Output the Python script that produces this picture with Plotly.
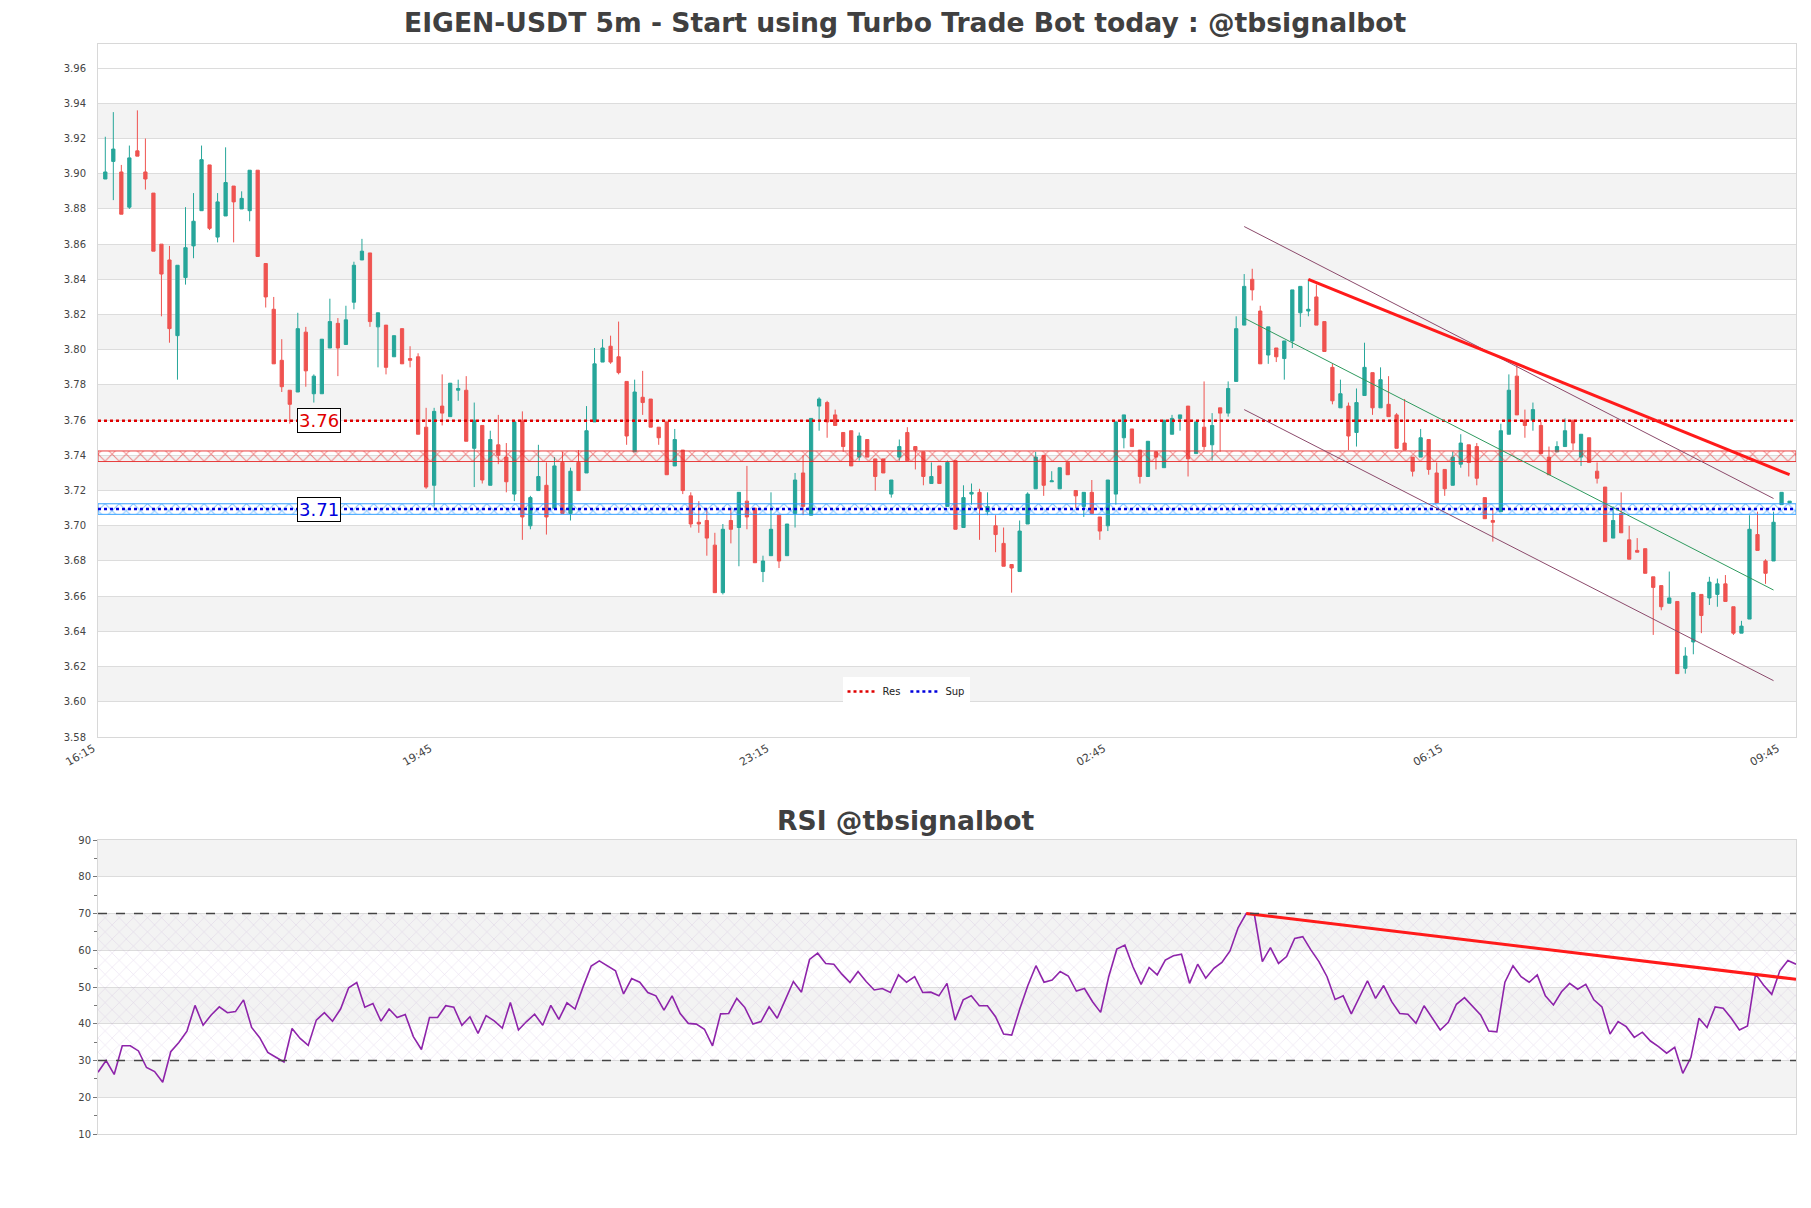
import plotly.graph_objects as go

# ---------------- data ----------------
tick_idx = [0, 42, 84, 126, 168, 210]
tick_labels = ["16:15", "19:45", "23:15", "02:45", "06:15", "09:45"]

open_ = [3.897, 3.907, 3.901, 3.881, 3.913, 3.901, 3.889, 3.860, 3.851, 3.808,
         3.841, 3.859, 3.879, 3.905, 3.864, 3.876, 3.893, 3.880, 3.879, 3.902,
         3.849, 3.823, 3.794, 3.777, 3.776, 3.810, 3.775, 3.775, 3.801, 3.815,
         3.803, 3.827, 3.851, 3.855, 3.813, 3.814, 3.796, 3.812, 3.795, 3.796,
         3.756, 3.723, 3.768, 3.762, 3.777, 3.777, 3.744, 3.757, 3.723, 3.746,
         3.739, 3.718, 3.760, 3.700, 3.720, 3.723, 3.710, 3.736, 3.707, 3.736,
         3.730, 3.759, 3.793, 3.802, 3.796, 3.782, 3.742, 3.773, 3.772, 3.756,
         3.759, 3.734, 3.743, 3.717, 3.702, 3.703, 3.689, 3.662, 3.703, 3.699,
         3.714, 3.710, 3.674, 3.683, 3.706, 3.683, 3.707, 3.730, 3.706, 3.768,
         3.770, 3.763, 3.753, 3.754, 3.739, 3.749, 3.738, 3.738, 3.718, 3.739,
         3.753, 3.745, 3.742, 3.724, 3.734, 3.711, 3.737, 3.699, 3.718, 3.719,
         3.708, 3.700, 3.690, 3.678, 3.674, 3.701, 3.721, 3.740, 3.725, 3.721,
         3.736, 3.720, 3.711, 3.719, 3.705, 3.700, 3.718, 3.750, 3.755, 3.743,
         3.728, 3.742, 3.733, 3.752, 3.761, 3.768, 3.741, 3.756, 3.746, 3.767,
         3.764, 3.782, 3.814, 3.840, 3.822, 3.797, 3.801, 3.795, 3.805, 3.821,
         3.822, 3.830, 3.816, 3.790, 3.767, 3.768, 3.753, 3.774, 3.787, 3.767,
         3.769, 3.763, 3.747, 3.739, 3.739, 3.749, 3.730, 3.732, 3.723, 3.735,
         3.746, 3.745, 3.716, 3.703, 3.708, 3.752, 3.785, 3.760, 3.760, 3.757,
         3.739, 3.742, 3.745, 3.760, 3.739, 3.750, 3.731, 3.722, 3.693, 3.707,
         3.692, 3.686, 3.687, 3.671, 3.666, 3.656, 3.657, 3.619, 3.634, 3.661,
         3.659, 3.661, 3.667, 3.654, 3.639, 3.647, 3.695, 3.680, 3.680, 3.712,
         3.713]
high = [3.921, 3.935, 3.905, 3.916, 3.936, 3.920, 3.889, 3.860, 3.859, 3.848,
        3.881, 3.889, 3.916, 3.905, 3.889, 3.915, 3.893, 3.890, 3.902, 3.902,
        3.849, 3.830, 3.806, 3.777, 3.821, 3.813, 3.786, 3.806, 3.829, 3.818,
        3.825, 3.850, 3.863, 3.855, 3.821, 3.814, 3.808, 3.812, 3.802, 3.798,
        3.767, 3.767, 3.786, 3.781, 3.783, 3.785, 3.770, 3.757, 3.754, 3.763,
        3.747, 3.759, 3.765, 3.717, 3.746, 3.736, 3.739, 3.742, 3.733, 3.743,
        3.768, 3.801, 3.806, 3.808, 3.816, 3.782, 3.783, 3.788, 3.772, 3.756,
        3.759, 3.755, 3.743, 3.719, 3.714, 3.710, 3.696, 3.701, 3.710, 3.719,
        3.734, 3.710, 3.683, 3.719, 3.706, 3.701, 3.730, 3.740, 3.761, 3.773,
        3.771, 3.766, 3.753, 3.754, 3.753, 3.749, 3.738, 3.738, 3.726, 3.749,
        3.756, 3.745, 3.742, 3.736, 3.734, 3.737, 3.737, 3.723, 3.724, 3.721,
        3.719, 3.706, 3.699, 3.678, 3.703, 3.719, 3.742, 3.740, 3.731, 3.733,
        3.736, 3.720, 3.719, 3.726, 3.705, 3.726, 3.759, 3.763, 3.755, 3.743,
        3.748, 3.742, 3.760, 3.763, 3.763, 3.768, 3.759, 3.782, 3.764, 3.767,
        3.782, 3.819, 3.843, 3.846, 3.825, 3.813, 3.801, 3.805, 3.834, 3.836,
        3.840, 3.837, 3.816, 3.792, 3.783, 3.770, 3.778, 3.804, 3.787, 3.790,
        3.785, 3.764, 3.772, 3.739, 3.755, 3.749, 3.736, 3.732, 3.742, 3.752,
        3.746, 3.747, 3.716, 3.710, 3.758, 3.786, 3.792, 3.766, 3.770, 3.759,
        3.745, 3.748, 3.761, 3.760, 3.752, 3.750, 3.736, 3.722, 3.711, 3.719,
        3.700, 3.693, 3.687, 3.671, 3.666, 3.674, 3.657, 3.631, 3.662, 3.661,
        3.671, 3.670, 3.672, 3.654, 3.646, 3.706, 3.708, 3.681, 3.708, 3.719,
        3.714]
low = [3.897, 3.885, 3.877, 3.880, 3.910, 3.891, 3.856, 3.819, 3.804, 3.783,
       3.837, 3.852, 3.879, 3.868, 3.861, 3.876, 3.861, 3.880, 3.873, 3.853,
       3.824, 3.792, 3.776, 3.758, 3.776, 3.779, 3.770, 3.775, 3.801, 3.785,
       3.803, 3.823, 3.851, 3.813, 3.790, 3.786, 3.796, 3.792, 3.790, 3.752,
       3.721, 3.711, 3.757, 3.762, 3.771, 3.748, 3.722, 3.724, 3.723, 3.735,
       3.719, 3.714, 3.692, 3.698, 3.720, 3.695, 3.710, 3.707, 3.703, 3.720,
       3.730, 3.759, 3.793, 3.792, 3.786, 3.746, 3.742, 3.763, 3.756, 3.746,
       3.729, 3.734, 3.718, 3.699, 3.696, 3.683, 3.662, 3.661, 3.690, 3.677,
       3.698, 3.679, 3.668, 3.683, 3.676, 3.683, 3.699, 3.706, 3.706, 3.754,
       3.750, 3.757, 3.742, 3.734, 3.737, 3.739, 3.720, 3.730, 3.716, 3.737,
       3.737, 3.732, 3.723, 3.724, 3.724, 3.711, 3.698, 3.699, 3.712, 3.692,
       3.706, 3.685, 3.677, 3.662, 3.674, 3.701, 3.721, 3.717, 3.725, 3.721,
       3.729, 3.710, 3.705, 3.707, 3.692, 3.697, 3.712, 3.744, 3.745, 3.724,
       3.728, 3.732, 3.733, 3.752, 3.754, 3.728, 3.741, 3.743, 3.737, 3.742,
       3.762, 3.782, 3.814, 3.828, 3.792, 3.792, 3.793, 3.783, 3.801, 3.813,
       3.819, 3.814, 3.799, 3.769, 3.767, 3.743, 3.745, 3.774, 3.763, 3.767,
       3.762, 3.744, 3.743, 3.728, 3.739, 3.729, 3.713, 3.717, 3.723, 3.733,
       3.728, 3.723, 3.704, 3.691, 3.708, 3.752, 3.763, 3.750, 3.754, 3.741,
       3.729, 3.742, 3.745, 3.743, 3.734, 3.736, 3.724, 3.691, 3.693, 3.696,
       3.681, 3.685, 3.673, 3.638, 3.652, 3.656, 3.616, 3.616, 3.627, 3.639,
       3.655, 3.654, 3.657, 3.638, 3.639, 3.647, 3.686, 3.667, 3.680, 3.712,
       3.713]
close = [3.901, 3.914, 3.877, 3.909, 3.910, 3.897, 3.856, 3.843, 3.812, 3.848,
         3.858, 3.873, 3.908, 3.869, 3.884, 3.895, 3.884, 3.886, 3.902, 3.853,
         3.830, 3.792, 3.779, 3.769, 3.812, 3.788, 3.785, 3.806, 3.816, 3.801,
         3.817, 3.848, 3.856, 3.816, 3.821, 3.790, 3.808, 3.792, 3.794, 3.752,
         3.722, 3.765, 3.764, 3.781, 3.778, 3.748, 3.760, 3.726, 3.749, 3.740,
         3.725, 3.759, 3.705, 3.716, 3.728, 3.705, 3.734, 3.707, 3.731, 3.720,
         3.754, 3.792, 3.801, 3.793, 3.787, 3.751, 3.776, 3.770, 3.756, 3.750,
         3.729, 3.749, 3.720, 3.701, 3.701, 3.693, 3.662, 3.698, 3.698, 3.719,
         3.705, 3.679, 3.680, 3.698, 3.680, 3.701, 3.726, 3.711, 3.761, 3.772,
         3.759, 3.757, 3.745, 3.734, 3.751, 3.739, 3.728, 3.730, 3.726, 3.745,
         3.737, 3.743, 3.728, 3.728, 3.724, 3.736, 3.698, 3.716, 3.719, 3.710,
         3.711, 3.695, 3.677, 3.676, 3.697, 3.718, 3.739, 3.723, 3.7255, 3.733,
         3.729, 3.717, 3.719, 3.707, 3.697, 3.726, 3.759, 3.763, 3.745, 3.728,
         3.748, 3.739, 3.760, 3.761, 3.763, 3.738, 3.759, 3.745, 3.757, 3.764,
         3.778, 3.812, 3.836, 3.834, 3.792, 3.813, 3.796, 3.805, 3.834, 3.836,
         3.823, 3.814, 3.799, 3.771, 3.775, 3.751, 3.770, 3.790, 3.767, 3.783,
         3.762, 3.744, 3.743, 3.731, 3.750, 3.732, 3.713, 3.721, 3.739, 3.747,
         3.736, 3.727, 3.704, 3.702, 3.754, 3.777, 3.763, 3.757, 3.766, 3.741,
         3.729, 3.745, 3.754, 3.747, 3.752, 3.736, 3.727, 3.691, 3.703, 3.696,
         3.681, 3.685, 3.673, 3.665, 3.654, 3.659, 3.616, 3.626, 3.662, 3.649,
         3.668, 3.667, 3.657, 3.639, 3.643, 3.698, 3.686, 3.673, 3.702, 3.719,
         3.714]

rsi = [26.8, 30.0, 26.2, 34.0, 34.0, 32.6, 28.1, 27.0, 24.1, 32.4,
       34.9, 38.0, 45.0, 39.6, 42.4, 44.6, 43.0, 43.3, 46.5, 39.0,
       36.2, 32.2, 30.9, 29.6, 38.7, 36.0, 34.1, 41.0, 43.0, 40.7,
       44.0, 49.8, 51.2, 44.5, 45.5, 40.7, 44.0, 41.7, 42.5, 36.5,
       33.0, 41.7, 41.7, 44.9, 44.5, 39.6, 41.9, 37.4, 42.2, 40.8,
       38.8, 45.8, 38.3, 40.6, 42.6, 39.6, 45.0, 41.2, 45.7, 44.0,
       50.1, 55.7, 57.1, 55.7, 54.4, 48.1, 52.3, 51.3, 48.5, 47.6,
       43.7, 47.6, 42.8, 40.1, 39.9, 38.5, 34.0, 42.7, 42.8, 46.9,
       44.4, 39.9, 40.6, 44.6, 41.5, 46.5, 51.5, 48.6, 57.5, 59.2,
       56.4, 56.2, 53.5, 51.2, 54.2, 51.5, 49.2, 49.6, 48.5, 53.3,
       51.3, 52.8, 48.5, 48.6, 47.6, 51.0, 41.0, 46.5, 47.6, 44.9,
       44.9, 41.9, 37.2, 36.9, 44.0, 50.4, 55.8, 51.3, 51.9, 54.2,
       53.0, 48.9, 49.6, 46.0, 43.1, 52.8, 60.3, 61.4, 55.5, 50.7,
       55.3, 53.3, 57.3, 58.5, 58.9, 51.0, 56.2, 52.4, 55.1, 56.7,
       59.8, 66.1, 70.0, 69.9, 56.9, 60.7, 56.4, 58.3, 63.2, 63.7,
       60.1, 56.9, 52.8, 46.6, 47.6, 42.7, 47.4, 51.7, 46.9, 50.4,
       46.0, 42.8, 42.6, 40.1, 44.9, 41.5, 38.3, 40.4, 45.3, 47.1,
       44.6, 42.4, 38.0, 37.8, 51.3, 55.8, 52.8, 51.3, 53.3, 47.6,
       45.1, 48.7, 51.0, 49.4, 50.7, 46.5, 44.6, 37.2, 40.6, 39.2,
       36.3, 37.7, 35.3, 33.8, 32.0, 33.6, 26.5, 30.8, 41.5, 39.0,
       44.6, 44.2, 41.5, 38.3, 39.4, 53.5, 50.5, 48.0, 54.4, 57.2,
       56.2]

res_level = 3.7597
sup_level = 3.7095
res_zone = [3.7365, 3.7425]
sup_zone = [3.7065, 3.7125]

trend_x = [150, 210]
trend_y = [3.840, 3.729]
chan_x = [142, 208]
chan_upper = [3.870, 3.7155]
chan_mid = [3.818, 3.6635]
chan_lower = [3.766, 3.612]

rsi_trend_x = [142, 210]
rsi_trend_y = [70.0, 52.1]
rsi_levels = [30, 70]

# ---------------- figure ----------------
n = len(close)
xs = list(range(n))
X_LO, X_HI = -0.91, 210.8

FONT = "DejaVu Sans"
GREEN = "#26a69a"
RED = "#ef5350"

fig = go.Figure()

fig.add_trace(go.Candlestick(
    x=xs, open=open_, high=high, low=low, close=close,
    increasing=dict(line=dict(color=GREEN, width=1), fillcolor=GREEN),
    decreasing=dict(line=dict(color=RED, width=1), fillcolor=RED),
    whiskerwidth=0, showlegend=False, xaxis="x", yaxis="y", hoverinfo="skip"))

# hatched zones
fig.add_trace(go.Scatter(
    x=[X_LO, X_HI, X_HI, X_LO, X_LO],
    y=[res_zone[0], res_zone[0], res_zone[1], res_zone[1], res_zone[0]],
    mode="lines", fill="toself", line=dict(color="rgba(230,40,40,0.9)", width=1),
    fillcolor="rgba(0,0,0,0)",
    fillpattern=dict(shape="x", fgcolor="#e82020", bgcolor="rgba(0,0,0,0)",
                     size=10, solidity=0.2),
    showlegend=False, hoverinfo="skip", xaxis="x", yaxis="y"))
fig.add_trace(go.Scatter(
    x=[X_LO, X_HI, X_HI, X_LO, X_LO],
    y=[sup_zone[0], sup_zone[0], sup_zone[1], sup_zone[1], sup_zone[0]],
    mode="lines", fill="toself", line=dict(color="rgba(30,150,255,0.9)", width=1),
    fillcolor="rgba(0,0,0,0)",
    fillpattern=dict(shape="x", fgcolor="#1e90ff", bgcolor="rgba(0,0,0,0)",
                     size=10, solidity=0.2),
    showlegend=False, hoverinfo="skip", xaxis="x", yaxis="y"))

# support / resistance lines
fig.add_trace(go.Scatter(x=[X_LO, X_HI], y=[res_level, res_level], mode="lines",
                         line=dict(color="#e00000", width=2.5, dash="dot"), name="Res",
                         hoverinfo="skip", xaxis="x", yaxis="y"))
fig.add_trace(go.Scatter(x=[X_LO, X_HI], y=[sup_level, sup_level], mode="lines",
                         line=dict(color="#0000dd", width=2.5, dash="dot"), name="Sup",
                         hoverinfo="skip", xaxis="x", yaxis="y"))

# channel
for yy, col in [(chan_upper, "#8b4a6b"), (chan_lower, "#8b4a6b"), (chan_mid, "#2e9a5e")]:
    fig.add_trace(go.Scatter(x=chan_x, y=yy, mode="lines", line=dict(color=col, width=1),
                             showlegend=False, hoverinfo="skip", xaxis="x", yaxis="y"))
# trend line
fig.add_trace(go.Scatter(x=trend_x, y=trend_y, mode="lines", line=dict(color="#ff1a1a", width=3),
                         showlegend=False, hoverinfo="skip", xaxis="x", yaxis="y"))

# ---------------- RSI ----------------
fig.add_trace(go.Scatter(
    x=[0, n - 1, n - 1, 0, 0], y=[rsi_levels[0], rsi_levels[0], rsi_levels[1], rsi_levels[1], rsi_levels[0]],
    mode="lines", fill="toself", line=dict(width=0, color="rgba(0,0,0,0)"),
    fillcolor="rgba(0,0,0,0)",
    fillpattern=dict(shape="x", fgcolor="rgba(160,120,190,0.55)", bgcolor="rgba(0,0,0,0)",
                     size=10, solidity=0.1),
    showlegend=False, hoverinfo="skip", xaxis="x2", yaxis="y2"))
fig.add_trace(go.Scatter(x=xs, y=rsi, mode="lines", line=dict(color="#8e24aa", width=1.6),
                         showlegend=False, hoverinfo="skip", xaxis="x2", yaxis="y2"))
fig.add_trace(go.Scatter(x=rsi_trend_x, y=rsi_trend_y, mode="lines", line=dict(color="#ff1a1a", width=3),
                         showlegend=False, hoverinfo="skip", xaxis="x2", yaxis="y2"))

shapes = []
# alternating bands on the price chart
band_lo = [3.60, 3.64, 3.68, 3.72, 3.76, 3.80, 3.84, 3.88, 3.92]
for b in band_lo:
    shapes.append(dict(type="rect", xref="x domain", yref="y", x0=0, x1=1, y0=b, y1=b + 0.02,
                       fillcolor="#f3f3f3", line=dict(width=0), layer="below"))
for b in [20, 40, 60, 80]:
    shapes.append(dict(type="rect", xref="x2 domain", yref="y2", x0=0, x1=1, y0=b, y1=b + 10,
                       fillcolor="#f3f3f3", line=dict(width=0), layer="below"))
for lv in rsi_levels:
    shapes.append(dict(type="line", xref="x2 domain", yref="y2", x0=0, x1=1, y0=lv, y1=lv,
                       line=dict(color="#444444", width=1.4, dash="dash"), layer="above"))

L, R, T, B = 98, 15, 44, 74
H, W = 1208, 1811
plot_h = H - T - B
main_bottom = (H - B - 737) / plot_h
rsi_top = (H - B - 840) / plot_h


def py(ypix):
    return (H - B - ypix) / plot_h


def px(xpix):
    return (xpix - L) / (W - L - R)


annotations = [
    dict(text="<b>EIGEN-USDT 5m - Start using Turbo Trade Bot today : @tbsignalbot</b>",
         xref="paper", yref="paper", x=px(905.5), y=py(23), xanchor="center", yanchor="middle",
         showarrow=False, font=dict(family=FONT, size=26.6, color="#404040")),
    dict(text="<b>RSI @tbsignalbot</b>", xref="paper", yref="paper", x=px(905.5), y=py(820),
         xanchor="center", yanchor="middle", showarrow=False,
         font=dict(family=FONT, size=26.6, color="#404040")),
    dict(text="3.76", x=26.6, y=res_level, xref="x", yref="y", showarrow=False,
         font=dict(family=FONT, size=18, color="#e00000"), bgcolor="white",
         bordercolor="black", borderwidth=1, borderpad=1),
    dict(text="3.71", x=26.6, y=sup_level, xref="x", yref="y", showarrow=False,
         font=dict(family=FONT, size=18, color="#0000dd"), bgcolor="white",
         bordercolor="black", borderwidth=1, borderpad=1),
]

tickfont = dict(family=FONT, size=10, color="#444444")

fig.update_layout(
    width=W, height=H, margin=dict(l=L, r=R, t=T, b=B),
    paper_bgcolor="white", plot_bgcolor="white",
    boxgap=0.42,
    shapes=shapes, annotations=annotations,
    showlegend=True,
    legend=dict(orientation="h", x=px(906), xanchor="center", y=py(706), yanchor="bottom",
                bgcolor="white", borderwidth=0, font=dict(family=FONT, size=10, color="#222"),
                itemwidth=30),
    xaxis=dict(domain=[0, 1], anchor="y", range=[X_LO, X_HI], rangeslider=dict(visible=False),
               tickmode="array", tickvals=tick_idx, ticktext=tick_labels, tickangle=-30,
               tickfont=dict(family=FONT, size=11, color="#444444"), ticklabelshift=-12,
               showgrid=False, zeroline=False, showline=True,
               linecolor="#d8d8d8", mirror=True, ticks=""),
    yaxis=dict(domain=[main_bottom, 1], anchor="x", range=[3.58, 3.9737], tick0=3.58, dtick=0.02,
               tickformat=".2f", tickfont=tickfont, showgrid=True, gridcolor="#dcdcdc",
               zeroline=False, showline=True, linecolor="#d8d8d8", mirror=True,
               ticks="outside", ticklen=9, tickcolor="rgba(0,0,0,0)"),
    xaxis2=dict(domain=[0, 1], anchor="y2", range=[0, n - 1], showticklabels=False,
                showgrid=False, zeroline=False, showline=True, linecolor="#d8d8d8", mirror=True,
                ticks=""),
    yaxis2=dict(domain=[0, rsi_top], anchor="x2", range=[10, 90], tick0=10, dtick=10,
                tickfont=tickfont, showgrid=True, gridcolor="#dcdcdc", zeroline=False,
                showline=True, linecolor="#d8d8d8", mirror=True,
                ticks="outside", ticklen=4, tickcolor="#777",
                minor=dict(dtick=5, ticks="outside", ticklen=3, tickcolor="#777", showgrid=False)),
)

fig.write_html("out.html", config={"displayModeBar": False})
